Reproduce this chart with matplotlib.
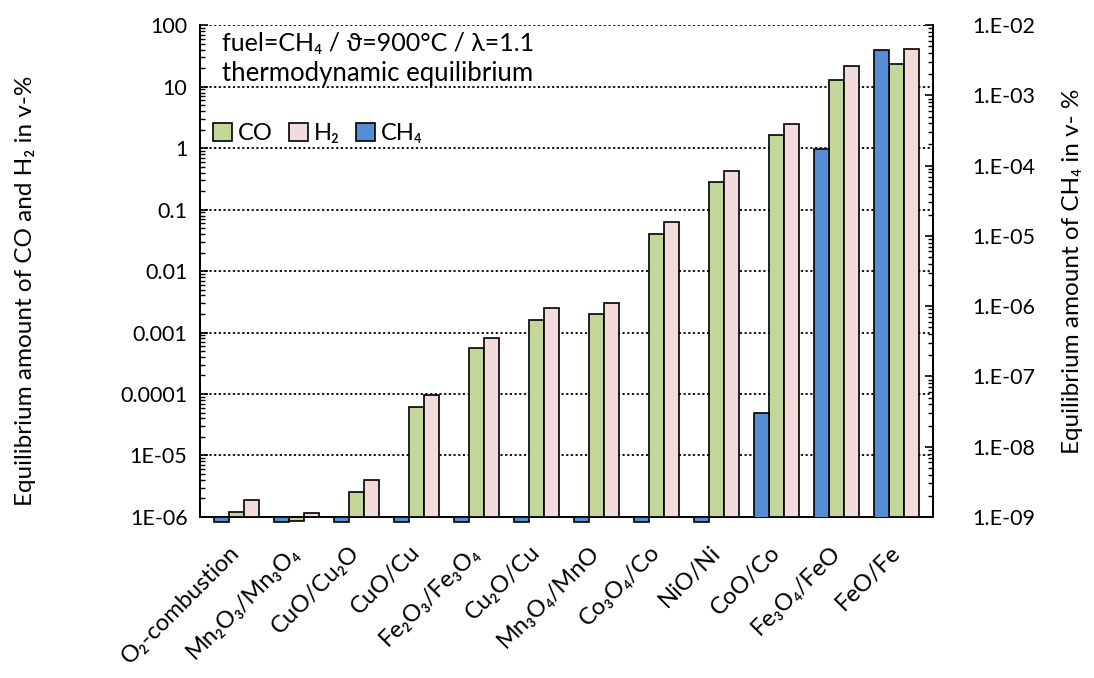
import numpy as np
import matplotlib.pyplot as plt
from matplotlib.patches import Patch

plt.rcParams['font.family'] = ['Lato', 'DejaVu Sans']

# oxygen carrier systems (x categories)
systems = ['O₂-combustion', 'Mn₂O₃/Mn₃O₄', 'CuO/Cu₂O', 'CuO/Cu', 'Fe₂O₃/Fe₃O₄',
           'Cu₂O/Cu', 'Mn₃O₄/MnO', 'Co₃O₄/Co', 'NiO/Ni', 'CoO/Co',
           'Fe₃O₄/FeO', 'FeO/Fe']

# equilibrium amounts in v-%
co = [1.22e-6, 8e-7, 2.52e-6, 6.05e-5, 5.53e-4, 1.58e-3, 1.98e-3,
      0.0397, 0.279, 1.63, 12.8, 23.3]
h2 = [1.92e-6, 1.14e-6, 3.92e-6, 9.5e-5, 8.05e-4, 2.48e-3, 2.99e-3,
      0.0623, 0.422, 2.46, 21.7, 40.9]
ch4 = [1e-12, 1e-12, 1e-12, 1e-12, 1e-12, 1e-12, 1e-12, 1e-12, 1e-12,
       3.03e-8, 1.75e-4, 4.35e-3]

left_ticks = [1e-6, 1e-5, 1e-4, 1e-3, 1e-2, 1e-1, 1, 10, 100]
left_labels = ['1E-06', '1E-05', '0.0001', '0.001', '0.01', '0.1', '1', '10', '100']
right_ticks = [1e-9, 1e-8, 1e-7, 1e-6, 1e-5, 1e-4, 1e-3, 1e-2]
right_labels = ['1.E-09', '1.E-08', '1.E-07', '1.E-06', '1.E-05', '1.E-04', '1.E-03', '1.E-02']

c_co = '#C4D79B'
c_h2 = '#F2DCDB'
c_ch4 = '#558ED5'

fig = plt.figure(figsize=(10.94, 6.78), dpi=100)
ax = fig.add_axes([0.1828, 0.2375, 0.6700, 0.7255])
ax2 = ax.twinx()

x = np.arange(len(systems))
w = 0.25
lw = 1.2


def draw(axis, xpos, vals, color, ymin):
    axis.bar(xpos, vals, w, color=color, edgecolor='black', linewidth=lw, zorder=3)
    # Excel leaves a small stub below the axis for values under its minimum
    for xi, v in zip(xpos, vals):
        if v < ymin:
            axis.bar(xi, ymin * 10 ** -0.07 - ymin, w, bottom=ymin, color=color,
                     edgecolor='black', linewidth=lw, zorder=3, clip_on=False)


ax.set_yscale('log')
ax2.set_yscale('log')
ax.set_ylim(1e-6, 100)
ax2.set_ylim(1e-9, 1e-2)

draw(ax, x, co, c_co, 1e-6)
draw(ax, x + w, h2, c_h2, 1e-6)
draw(ax2, x - w, ch4, c_ch4, 1e-9)

ax.set_xlim(-0.6, 11.6)
ax.set_xticks(x)
ax.set_xticklabels(systems, rotation=45, ha='right', va='center',
                   rotation_mode='anchor', fontsize=17)
ax.tick_params(axis='x', length=0, pad=23)

ax.set_yticks(left_ticks)
ax.set_yticklabels(left_labels, fontsize=15.5)
ax.tick_params(axis='y', which='major', direction='in', length=6, width=1.2, pad=9)
ax.tick_params(axis='y', which='minor', direction='in', length=3.5, width=1)

ax2.set_yticks(right_ticks)
ax2.set_yticklabels(right_labels, fontsize=15.5)
ax2.tick_params(axis='y', which='major', direction='in', length=6, width=1.2, pad=28)
ax2.tick_params(axis='y', which='minor', direction='in', length=3.5, width=1)

ax.yaxis.grid(True, which='major', color='black', linestyle=(0, (1.2, 1.4)), linewidth=1.3)
ax.set_axisbelow(True)

for a in (ax, ax2):
    a.spines['top'].set_visible(False)
    for s in ('left', 'right', 'bottom'):
        a.spines[s].set_linewidth(1.3)

ax.set_ylabel('Equilibrium amount of CO and H₂ in v-%', fontsize=17.5)
ax.yaxis.set_label_coords(-0.224, 0.46)
ax2.set_ylabel('Equilibrium amount of CH₄ in v- %', fontsize=17.5)
ax2.yaxis.set_label_coords(1.176, 0.5)

ax.text(0.03, 0.963, 'fuel=CH₄ / ϑ=900°C / λ=1.1', transform=ax.transAxes,
        va='center', ha='left', fontsize=18)
ax.text(0.03, 0.902, 'thermodynamic equilibrium', transform=ax.transAxes,
        va='center', ha='left', fontsize=18.5)

handles = [Patch(facecolor=c_co, edgecolor='black', linewidth=lw),
           Patch(facecolor=c_h2, edgecolor='black', linewidth=lw),
           Patch(facecolor=c_ch4, edgecolor='black', linewidth=lw)]
ax.legend(handles, ['CO', 'H₂', 'CH₄'], loc='center left', bbox_to_anchor=(-0.005, 0.78),
          ncol=3, frameon=False, fontsize=17, handlelength=0.8, handleheight=0.8,
          handletextpad=0.25, columnspacing=0.7, borderpad=0.2)

fig.savefig('out.png', dpi=100)
